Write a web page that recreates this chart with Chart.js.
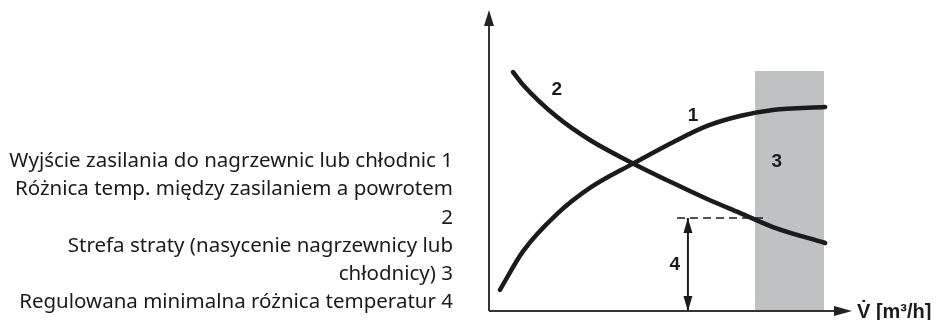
<!DOCTYPE html>
<html>
<head>
<meta charset="utf-8">
<script src="https://cdn.jsdelivr.net/npm/chart.js@4.4.1/dist/chart.umd.min.js"></script>
<style>
  html, body { margin: 0; padding: 0; background: #fff; }
  #wrap { position: relative; width: 936px; height: 320px; }
  #legend {
    position: absolute; left: 0; top: 145px; width: 453px;
    font-family: 'Noto Sans', sans-serif; font-size: 20.5px; line-height: 28.3px;
    text-align: right; color: #1a1a1a; white-space: nowrap;
  }
  canvas { position: absolute; left: 0; top: 0; }
</style>
</head>
<body>
<div id="wrap">
  <canvas id="chart" width="936" height="320"></canvas>
  <div id="legend"></div>
</div>
<script>
// curve 1 - output to heaters / coolers
var supplyX = [3.0, 9.4, 18.7, 27.8, 39.4, 50.7, 60.1, 69.1, 78.2, 92.6];
var supplyY = [7.0, 19.9, 32.2, 40.9, 48.8, 56.1, 61.5, 64.8, 66.8, 67.8];
// curve 2 - supply / return temperature difference
var diffX = [6.6, 9.4, 18.7, 27.8, 39.4, 50.7, 60.1, 69.1, 78.2, 92.6];
var diffY = [79.4, 75.1, 64.5, 56.8, 49.2, 42.5, 37.2, 32.6, 27.9, 22.6];
// zone 3 (loss zone) and min difference 4
var lossZoneX = [73.3, 92.3];
var lossZoneTop = 79.7;
var minDiff = 30.9;
var minDiffX = [51.8, 76.9];
var minDiffArrowX = 54.8;

var legendLines = [
  'Wyjście zasilania do nagrzewnic lub chłodnic 1',
  'Różnica temp. między zasilaniem a powrotem',
  '2',
  'Strefa straty (nasycenie nagrzewnicy lub',
  'chłodnicy) 3',
  'Regulowana minimalna różnica temperatur 4'
];
var curveLabels = ['1', '2', '3', '4'];
var curveLabelPos = [[56.2, 64.8], [18.7, 73.4], [79.3, 49.5], [51.2, 15.3]];
var axisLabel = 'V̇ [m³/h]';

document.getElementById('legend').innerHTML = legendLines.join('<br>');

function pts(xs, ys) {
  return xs.map(function (x, i) { return { x: x, y: ys[i] }; });
}

var ink = '#1b1b1b';

var diagramPlugin = {
  id: 'diagram',
  afterDatasetsDraw: function (chart) {
    var ctx = chart.ctx;
    var xs = chart.scales.x, ys = chart.scales.y;
    var x0 = xs.getPixelForValue(0), y0 = ys.getPixelForValue(0);
    var x1 = xs.getPixelForValue(100), y1 = ys.getPixelForValue(100);
    ctx.save();
    ctx.strokeStyle = '#333';
    ctx.fillStyle = '#222';
    ctx.lineWidth = 2;
    // axes
    ctx.beginPath();
    ctx.moveTo(x0, y0); ctx.lineTo(x0, y1 + 12);
    ctx.moveTo(x0, y0); ctx.lineTo(x1 - 14, y0);
    ctx.stroke();
    ctx.beginPath();
    ctx.moveTo(x0, y1); ctx.lineTo(x0 - 5, y1 + 16); ctx.lineTo(x0 + 5, y1 + 16); ctx.closePath();
    ctx.fill();
    ctx.beginPath();
    ctx.moveTo(x1, y0); ctx.lineTo(x1 - 18, y0 - 5); ctx.lineTo(x1 - 18, y0 + 5); ctx.closePath();
    ctx.fill();
    // double arrow heads for 4
    var ax = xs.getPixelForValue(minDiffArrowX);
    var at = ys.getPixelForValue(minDiff);
    ctx.fillStyle = ink;
    ctx.beginPath();
    ctx.moveTo(ax, at); ctx.lineTo(ax - 4.5, at + 15); ctx.lineTo(ax + 4.5, at + 15); ctx.closePath();
    ctx.fill();
    ctx.beginPath();
    ctx.moveTo(ax, y0); ctx.lineTo(ax - 4.5, y0 - 15); ctx.lineTo(ax + 4.5, y0 - 15); ctx.closePath();
    ctx.fill();
    // labels
    ctx.fillStyle = ink;
    ctx.font = 'bold 19px "Liberation Sans", Arial, sans-serif';
    ctx.textAlign = 'center';
    ctx.textBaseline = 'middle';
    curveLabels.forEach(function (t, i) {
      ctx.fillText(t, xs.getPixelForValue(curveLabelPos[i][0]), ys.getPixelForValue(curveLabelPos[i][1]));
    });
    ctx.font = 'bold 20px "Liberation Sans", Arial, sans-serif';
    ctx.textAlign = 'left';
    ctx.fillText(axisLabel, x1 + 5, y0 + 1);
    ctx.restore();
  }
};

var ctx = document.getElementById('chart').getContext('2d');
var chart = new Chart(ctx, {
  type: 'line',
  data: {
    datasets: [{
      label: 'Strefa straty',
      data: pts([lossZoneX[0], lossZoneX[0], lossZoneX[1], lossZoneX[1]], [0, lossZoneTop, lossZoneTop, 0]),
      backgroundColor: '#c0c1c3',
      borderWidth: 0,
      fill: 'origin',
      tension: 0,
      pointRadius: 0,
      order: 10
    }, {
      label: 'Wyjście zasilania',
      data: pts(supplyX, supplyY),
      borderColor: ink,
      borderWidth: 4.5,
      borderCapStyle: 'round',
      cubicInterpolationMode: 'monotone',
      pointRadius: 0,
      fill: false,
      order: 1
    }, {
      label: 'Różnica temp.',
      data: pts(diffX, diffY),
      borderColor: ink,
      borderWidth: 4.5,
      borderCapStyle: 'round',
      cubicInterpolationMode: 'monotone',
      pointRadius: 0,
      fill: false,
      order: 1
    }, {
      label: 'min',
      data: pts(minDiffX, [minDiff, minDiff]),
      borderColor: ink,
      borderWidth: 1.5,
      borderDash: [8, 5],
      pointRadius: 0,
      fill: false,
      order: 2
    }, {
      label: 'arrow',
      data: pts([minDiffArrowX, minDiffArrowX], [0, minDiff]),
      borderColor: ink,
      borderWidth: 2,
      pointRadius: 0,
      fill: false,
      order: 2
    }]
  },
  options: {
    responsive: false,
    animation: false,
    layout: { padding: { left: 489, right: 84, top: 10, bottom: 9 } },
    plugins: { legend: { display: false }, tooltip: { enabled: false } },
    scales: {
      x: { type: 'linear', min: 0, max: 100, display: false },
      y: { type: 'linear', min: 0, max: 100, display: false }
    }
  },
  plugins: [diagramPlugin]
});
</script>
</body>
</html>
